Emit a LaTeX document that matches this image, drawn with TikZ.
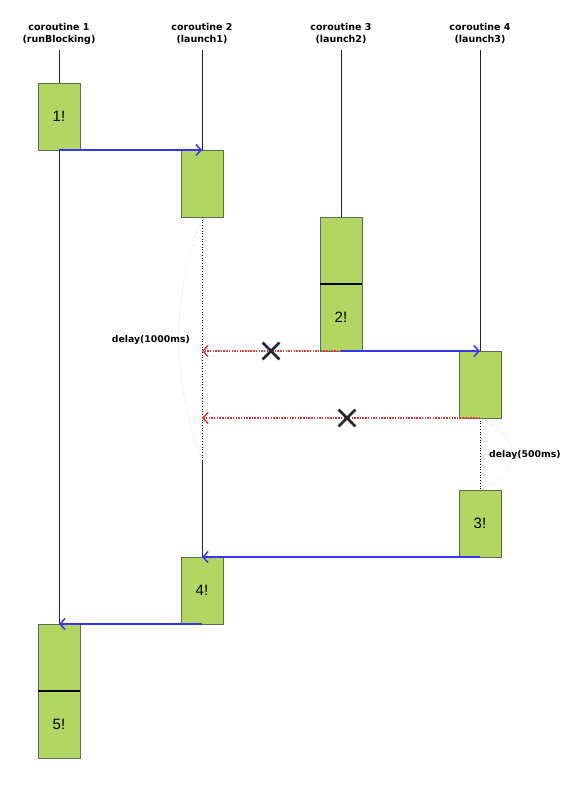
\documentclass[tikz,border=0pt]{standalone}
\usepackage{fontspec}
\setmainfont{Liberation Sans}
\newfontfamily\labfont{DejaVu Sans}
\usetikzlibrary{arrows.meta,shapes.misc}
\definecolor{boxgreen}{HTML}{B2D662}
\definecolor{boxedge}{HTML}{5E6B52}
\definecolor{msgblue}{HTML}{3535F5}
\definecolor{msgred}{HTML}{E03A3A}
\definecolor{arctan}{HTML}{D8C8B4}
\tikzset{
 act/.style={draw=boxedge, fill=boxgreen, line width=0.8pt, minimum width=42pt, minimum height=67pt, inner sep=0pt, outer sep=0pt, font=\fontsize{15}{15}\selectfont},
 head/.style={font=\labfont\bfseries\fontsize{9.5}{12}\selectfont, align=center},
 lab/.style={font=\labfont\bfseries\fontsize{9.3}{11}\selectfont, inner sep=0pt},
 life/.style={draw=black!85, line width=0.7pt},
 idle/.style={draw=black, dotted, line width=0.7pt},
 call/.style={draw=msgblue, line width=1.5pt, -{Straight Barb[length=5pt,width=11pt]}},
 cancel/.style={draw=msgred, line width=1.5pt, dash pattern=on 1.5pt off 1.2pt, -{Straight Barb[length=5pt,width=11pt]}},
 delayarc/.style={draw=arctan, dotted, line width=0.7pt},
 killmark/.style={cross out, draw=black!85, line width=2.8pt, minimum size=14pt, inner sep=0pt},
 divider/.style={draw=black, line width=1.4pt}
}
\begin{document}
\begin{tikzpicture}[x=1pt,y=-1pt]
\useasboundingbox (0,0) rectangle (578,796);
% headers
\node[head] (h1) at (59,34) {coroutine 1\\(runBlocking)};
\node[head] (h2) at (202,34) {coroutine 2\\(launch1)};
\node[head] (h3) at (341,34) {coroutine 3\\(launch2)};
\node[head] (h4) at (480,34) {coroutine 4\\(launch3)};
\coordinate (t1) at (59,50);
\coordinate (t2) at (202,50);
\coordinate (t3) at (341,50);
\coordinate (t4) at (480,50);
% activation boxes
\node[act] (a1) at (59,116.5) {1!};
\node[act] (b1) at (202,183.5) {};
\node[act] (c1top) at (341,250.5) {};
\node[act] (c1bot) at (341,317.5) {2!};
\node[act] (d1) at (480,384.5) {};
\node[act] (d2) at (480,523.5) {3!};
\node[act] (b2) at (202,590.5) {4!};
\node[act] (a2top) at (59,657.5) {};
\node[act] (a2bot) at (59,724.5) {5!};
\draw[divider] (c1top.south west) -- (c1top.south east);
\draw[divider] (a2top.south west) -- (a2top.south east);
% lifelines
\coordinate (w2) at (202,460);
\draw[life] (t1) -- (a1.north);
\draw[life] (a1.south) -- (a2top.north);
\draw[life] (t2) -- (b1.north);
\draw[idle] (b1.south) -- (w2);
\draw[life] (w2) -- (b2.north);
\draw[life] (t3) -- (c1top.north);
\draw[life] (t4) -- (d1.north);
\draw[idle] (d1.south) -- (d2.north);
% delay arcs
\draw[delayarc] (b1.south) .. controls (171,298) and (171,379) .. (w2);
\draw[delayarc] (d1.south) .. controls (523,436) and (523,472) .. (d2.north);
\node[lab, anchor=east] (l1) at (190,340) {delay(1000ms)};
\node[lab, anchor=west] (l2) at (489,455) {delay(500ms)};
% cancelled messages
\coordinate (r1) at (202,351);
\coordinate (r2) at (202,418);
\draw[cancel] (c1bot.south) -- (r1);
\draw[cancel] (d1.south) -- (r2);
\node[killmark] (x1) at (271,351) {};
\node[killmark] (x2) at (347,418) {};
% calls
\draw[call] (a1.south) -- (b1.north);
\draw[call] (c1bot.south) -- (d1.north);
\draw[call] (d2.south) -- (b2.north);
\draw[call] (b2.south) -- (a2top.north);
\end{tikzpicture}
\end{document}
